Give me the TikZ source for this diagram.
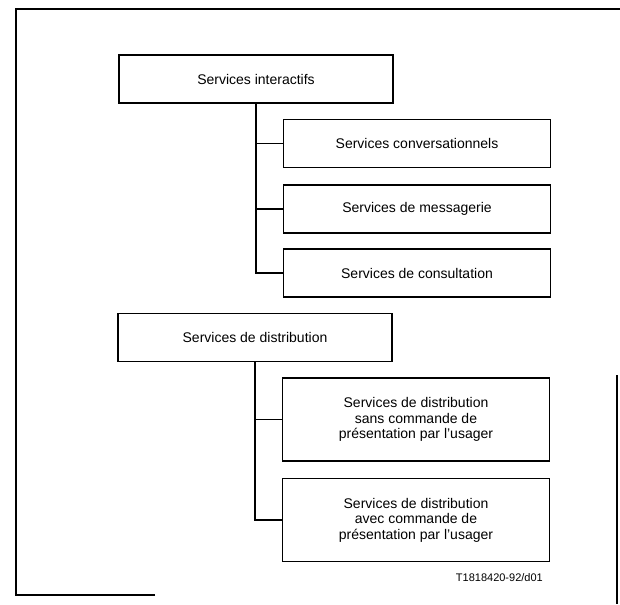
\documentclass[tikz,border=0pt]{standalone}
\usepackage{fontspec}
\setmainfont{Liberation Sans}
\begin{document}
\begin{tikzpicture}[
x=1pt,y=-1pt,
every node/.style={
font=\fontsize{14}{15.5}\selectfont,
align=center,
inner sep=0pt
},
box/.style={
draw,
line width=1.3pt,
minimum height=48
},
parent/.style={box, minimum width=274},
child/.style={box, minimum width=267}
]
\useasboundingbox (0,0) rectangle (620,604);

% cadre
\draw[line width=1.3pt] (155,595) -- (16,595) -- (16,9) -- (620,9);
\draw[line width=1.3pt] (617,375) -- (617,604);

\node[parent] (I) at (256,79) {Services interactifs};

\node[child] (Cv) at (417,143.5) {Services conversationnels};
\node[child] (Ms) at (417,209) {Services de messagerie};
\node[child] (Cs) at (417,273) {Services de consultation};

\node[parent] (D) at (255,337.5) {Services de distribution};

\node[child, minimum height=83] (Ds) at (416,419.5) {Services de distribution\\sans commande de\\présentation par l'usager};
\node[child, minimum height=83] (Da) at (416,520) {Services de distribution\\avec commande de\\présentation par l'usager};

\draw[line width=1.3pt] (I.south) |- (Cv.west);
\draw[line width=1.3pt] (I.south) |- (Ms.west);
\draw[line width=1.3pt] (I.south) |- (Cs.west);

\draw[line width=1.3pt] (D.south) |- (Ds.west);
\draw[line width=1.3pt] (D.south) |- (Da.west);

\node[anchor=east, font=\fontsize{11}{13}\selectfont] (T) at (543,578) {T1818420-92/d01};

\end{tikzpicture}
\end{document}
